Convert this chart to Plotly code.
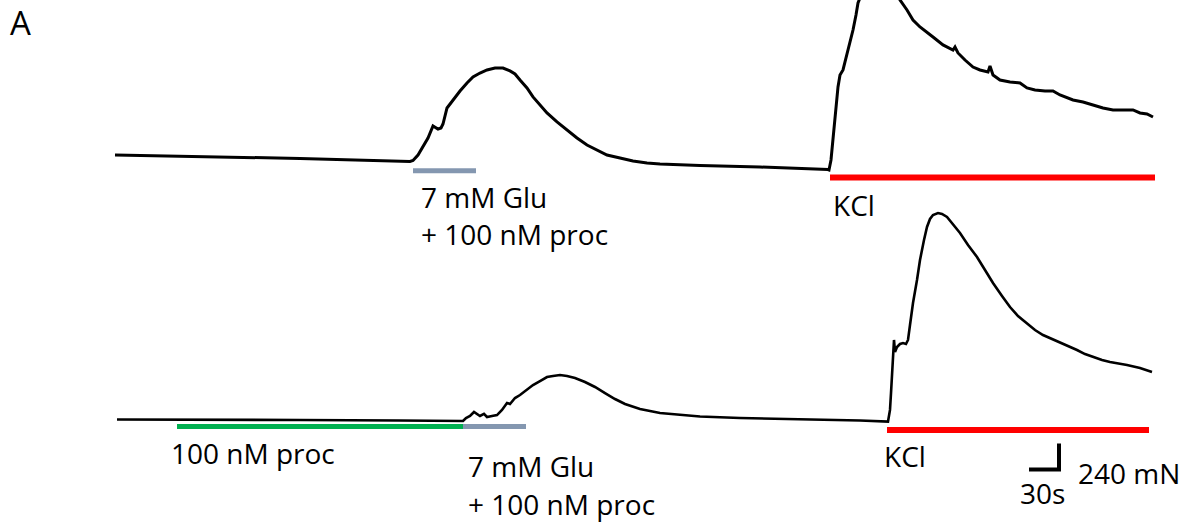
import plotly.graph_objects as go

# ---------------- data (time in s, force in mN above each trace's baseline) ----------------
top_t = [0, 85, 185, 295, 298, 303, 308, 313, 318, 321, 323, 326, 328, 332, 338, 345, 352, 358,
         365, 372, 380, 388, 395, 400, 405, 412, 418, 425, 432, 442, 452, 462, 472, 482, 492, 505,
         518, 532, 545, 585, 645, 713, 714, 716, 718, 721, 723, 725, 728, 730, 733, 735, 738, 741,
         743, 750, 765, 780, 785, 792, 798, 805, 812, 818, 828, 838, 840, 843, 850, 858, 865, 873,
         875, 878, 885, 895, 905, 912, 920, 930, 938, 945, 958, 968, 978, 988, 998, 1008, 1018,
         1025, 1032, 1038]
top_f = [46, 32, 14, -14, -5, 46, 120, 203, 314, 295, 286, 295, 332, 480, 554, 637, 711, 766,
         803, 831, 849, 849, 822, 794, 738, 665, 582, 508, 434, 351, 277, 203, 138, 92, 46, 18,
         -9, -28, -37, -51, -65, -88, -92, 0, 185, 462, 674, 785, 831, 905, 1015, 1089, 1200, 1338,
         1449, 1615, 1708, 1569, 1477, 1385, 1292, 1228, 1181, 1135, 1062, 1015, 1043, 988, 923, 858,
         831, 812, 868, 785, 738, 720, 711, 665, 646, 637, 637, 600, 554, 535, 508, 480, 462, 462,
         462, 434, 425, 397]

bot_t = [2, 85, 185, 285, 348, 351, 355, 359, 362, 365, 369, 372, 377, 382, 387, 392, 395, 400,
         405, 412, 418, 425, 432, 438, 445, 452, 460, 470, 480, 490, 500, 510, 525, 545, 565, 585,
         625, 685, 745, 773, 775, 776, 778, 779, 780, 782, 785, 788, 791, 793, 795, 798, 802, 805,
         809, 812, 815, 818, 823, 827, 832, 838, 845, 853, 862, 870, 878, 887, 895, 903, 912, 920,
         928, 937, 945, 953, 962, 970, 978, 987, 995, 1003, 1012, 1025, 1037]
bot_f = [14, 14, 9, 5, 0, 28, 46, 83, 65, 46, 65, 37, 46, 55, 102, 166, 157, 212,
         240, 286, 332, 369, 406, 415, 425, 415, 397, 360, 314, 258, 203, 157, 111, 74, 55, 42,
         28, 18, 5, -5, 102, 258, 609, 748, 637, 683, 711, 720, 711, 748, 886, 1089, 1301, 1486,
         1671, 1791, 1865, 1901, 1920, 1911, 1883, 1818, 1735, 1625, 1514, 1394, 1274, 1154, 1052, 969, 905, 840,
         794, 757, 729, 692, 655, 618, 591, 563, 545, 535, 517, 489, 452]

# stimulus bars: (start s, end s, level mN)
top_glu = [298, 361, -99]
top_kcl = [715, 1040, -162]
bot_proc = [62, 348, -51]
bot_glu = [348, 411, -51]
bot_kcl = [772, 1034, -83]

# scale bar: 30 s, 240 mN
scale_s = 30
scale_mN = 240
scale_t0 = 914
scale_f0 = -448

labels = ["7 mM Glu", "+ 100 nM proc", "KCl", "100 nM proc", "7 mM Glu", "+ 100 nM proc",
          "KCl", "30s", "240 mN", "A"]

# ---------------- figure ----------------
W, H = 1180, 524
K = 240 / 26.0  # mN per pixel
BLACK = "#000000"
GREY = "#8497b0"
RED = "#ff0000"
GREEN = "#00b050"

fig = go.Figure()

def line(x, y, color, width, ax):
    fig.add_trace(go.Scatter(x=x, y=y, mode="lines", line=dict(color=color, width=width),
                             yaxis=ax, hoverinfo="skip", showlegend=False))

line(top_t, top_f, BLACK, 3, "y")
line(bot_t, bot_f, BLACK, 2.6, "y2")
for b, ax, c, w in [(top_glu, "y", GREY, 5), (top_kcl, "y", RED, 6),
                    (bot_proc, "y2", GREEN, 5), (bot_glu, "y2", GREY, 5),
                    (bot_kcl, "y2", RED, 6)]:
    line([b[0], b[1]], [b[2], b[2]], c, w, ax)

# scale bar
line([scale_t0, scale_t0 + scale_s, scale_t0 + scale_s],
     [scale_f0, scale_f0, scale_f0 + scale_mN], BLACK, 4, "y2")

# axes: x in s, 1 px per s; y in mN (both y axes span the full height, own baselines)
x0_px = 115
top_base_px, bot_base_px = 160, 421
fig.update_layout(
    width=W, height=H,
    margin=dict(l=0, r=0, t=0, b=0),
    paper_bgcolor="white", plot_bgcolor="white",
    xaxis=dict(range=[-x0_px, W - x0_px], visible=False, showgrid=False, zeroline=False),
    yaxis=dict(domain=[0, 1], range=[(top_base_px - H) * K, top_base_px * K],
               visible=False, showgrid=False, zeroline=False),
    yaxis2=dict(domain=[0, 1], range=[(bot_base_px - H) * K, bot_base_px * K],
                overlaying="y", visible=False, showgrid=False, zeroline=False),
    font=dict(family="Open Sans, Lato, sans-serif", color=BLACK),
)

# text labels: (left px, middle px, size)
pos = [(419, 196.5, 28), (419, 234.5, 28), (831, 204.5, 28), (169, 452.8, 28),
       (466, 465.5, 28), (466, 503.5, 28), (882, 455.5, 28), (1018, 492.5, 28),
       (1076, 472.5, 28), (8, 22.5, 33)]
for txt, (px, py, fs) in zip(labels, pos):
    fig.add_annotation(text=txt, x=px / W, y=1 - py / H, xref="paper", yref="paper",
                       xanchor="left", yanchor="middle", showarrow=False,
                       font=dict(size=fs, color=BLACK, family="Open Sans"))

fig.write_html("out.html", config={"displayModeBar": False},
               post_script="document.body.style.margin='0';document.body.style.overflow='hidden';")
